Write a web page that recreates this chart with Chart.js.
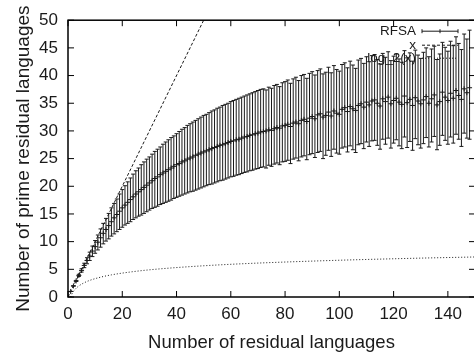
<!DOCTYPE html>
<html>
<head>
<meta charset="utf-8">
<script src="https://cdn.jsdelivr.net/npm/chart.js@4/dist/chart.umd.min.js"></script>
<style>
  html, body { margin: 0; padding: 0; background: #fff; overflow: hidden; }
</style>
</head>
<body>
<canvas id="myChart" width="480" height="355"></canvas>
<script>
// RFSA mean and error bar ends, one entry per residual-language count (1, 2, 3, ...)
const rfsaMean = [
    1, 2, 2.9, 3.9, 4.8, 5.7, 6.6, 7.4, 8.3, 9.1,
    9.9, 10.7, 11.5, 12.2, 12.9, 13.6, 14.3, 14.9, 15.5, 16.1,
    16.6, 17.1, 17.6, 18.1, 18.6, 19.0, 19.4, 19.8, 20.2, 20.6,
    21.0, 21.4, 21.7, 22.1, 22.4, 22.7, 23.0, 23.3, 23.6, 23.9,
    24.1, 24.4, 24.6, 24.9, 25.1, 25.3, 25.6, 25.8, 26.0, 26.2,
    26.4, 26.6, 26.8, 27.0, 27.2, 27.4, 27.5, 27.7, 27.9, 28.1,
    28.2, 28.4, 28.5, 28.7, 28.9, 29.0, 29.2, 29.3, 29.5, 29.6,
    29.8, 29.9, 30.0, 30.2, 30.1, 30.4, 30.6, 30.5, 30.9, 31.0,
    31.2, 30.8, 31.4, 31.6, 31.3, 31.9, 32.1, 31.7, 32.3, 32.6,
    32.2, 32.9, 33.1, 32.5, 32.8, 33.4, 32.7, 33.6, 33.2, 33.0,
    33.9, 34.2, 33.5, 34.4, 34.0, 33.7, 34.6, 34.9, 34.3, 35.2,
    34.7, 35.4, 35.6, 35.0, 34.5, 35.8, 35.3, 36.1, 34.9, 35.5,
    35.9, 35.2, 34.8, 36.3, 35.1, 35.7, 34.6, 36.0, 35.4, 34.9,
    35.6, 36.2, 35.0, 35.8, 36.5, 34.7, 35.3, 37.0, 36.1, 35.5,
    36.8, 35.9, 37.3, 36.4, 35.7, 37.6, 36.9, 37.8
];
const rfsaLow = [
    1, 2, 2.8, 3.7, 4.5, 5.3, 6.0, 6.6, 7.3, 7.9,
    8.5, 9.0, 9.6, 10.1, 10.5, 11.0, 11.4, 11.8, 12.2, 12.6,
    13.0, 13.3, 13.6, 14.0, 14.3, 14.6, 14.8, 15.1, 15.4, 15.7,
    16.0, 16.2, 16.4, 16.7, 16.9, 17.1, 17.3, 17.5, 17.8, 18.0,
    18.2, 18.4, 18.6, 18.8, 19.0, 19.1, 19.3, 19.5, 19.7, 19.9,
    20.1, 20.3, 20.4, 20.6, 20.8, 21.0, 21.1, 21.3, 21.5, 21.7,
    21.8, 22.0, 22.1, 22.3, 22.5, 22.6, 22.8, 22.9, 23.1, 23.2,
    23.4, 23.5, 23.3, 23.8, 23.6, 24.0, 24.2, 23.9, 24.4, 24.5,
    24.7, 24.1, 24.9, 25.1, 24.6, 25.3, 25.5, 24.8, 25.7, 25.9,
    25.2, 26.1, 26.3, 25.0, 25.6, 26.5, 25.4, 26.7, 26.0, 25.8,
    26.9, 27.1, 26.2, 27.3, 26.6, 26.1, 27.5, 27.7, 26.8, 28.0,
    27.2, 28.2, 28.3, 27.4, 26.7, 28.5, 27.6, 28.7, 26.9, 27.8,
    28.4, 27.3, 26.8, 28.9, 27.0, 28.1, 26.5, 28.6, 27.5, 26.9,
    27.7, 28.8, 27.1, 28.0, 29.0, 26.6, 27.4, 29.2, 28.3, 27.6,
    28.9, 27.8, 29.4, 28.5, 27.2, 29.6, 28.7, 28.5
];
const rfsaHigh = [
    1, 2, 3.0, 4.1, 5.1, 6.1, 7.1, 8.1, 9.2, 10.2,
    11.2, 12.3, 13.3, 14.2, 15.1, 16.1, 16.9, 17.7, 18.6, 19.4,
    20.1, 20.8, 21.5, 22.2, 22.8, 23.3, 23.9, 24.4, 24.9, 25.3,
    25.8, 26.3, 26.7, 27.1, 27.6, 28.0, 28.4, 28.8, 29.1, 29.5,
    29.9, 30.3, 30.6, 31.0, 31.3, 31.6, 31.9, 32.2, 32.5, 32.8,
    33.0, 33.3, 33.6, 33.8, 34.1, 34.3, 34.6, 34.8, 35.0, 35.3,
    35.5, 35.7, 35.9, 36.1, 36.3, 36.5, 36.7, 36.9, 37.1, 37.3,
    37.5, 37.6, 37.4, 37.9, 37.7, 38.2, 38.4, 38.0, 38.7, 38.9,
    39.2, 38.6, 39.4, 39.7, 39.1, 40.0, 40.2, 39.5, 40.4, 40.7,
    40.1, 40.9, 41.2, 40.3, 40.6, 41.5, 40.5, 41.8, 41.1, 40.8,
    42.0, 42.3, 41.4, 42.6, 41.9, 41.3, 42.8, 43.1, 42.2, 43.4,
    42.5, 43.6, 43.8, 42.9, 42.1, 44.0, 43.3, 44.3, 42.7, 43.5,
    43.9, 43.0, 42.4, 44.5, 43.2, 44.1, 42.6, 44.6, 43.7, 43.1,
    44.2, 45.0, 43.4, 44.8, 45.3, 42.9, 43.9, 46.0, 45.1, 44.4,
    46.2, 45.4, 47.0, 45.8, 44.7, 47.5, 46.6, 48.2
];
const residuals = rfsaMean.map((_, i) => i + 1);

// reference curves
const diagX = [0, 50];
const diagY = [0, 50];
const logX = [1, 1.5, 2, 3, 4, 6, 8, 12, 16, 24, 32, 48, 64, 96, 128, 150];
const logY = [0, 0.58, 1, 1.58, 2, 2.58, 3, 3.58, 4, 4.58, 5, 5.58, 6, 6.58, 7, 7.23];

const xTicks = [0, 20, 40, 60, 80, 100, 120, 140];

const font = "'Liberation Sans', Arial, sans-serif";
const ink = '#1a1a1a';

const errorBars = {
    id: 'errorBars',
    beforeDatasetsDraw(chart) {
        const { ctx, scales: { x, y } } = chart;
        ctx.save();
        ctx.strokeStyle = ink;
        ctx.lineWidth = 1;
        ctx.beginPath();
        residuals.forEach((n, i) => {
            const px = x.getPixelForValue(n);
            const top = y.getPixelForValue(rfsaHigh[i]);
            const bot = y.getPixelForValue(rfsaLow[i]);
            ctx.moveTo(px, top); ctx.lineTo(px, bot);
            ctx.moveTo(px - 2, top); ctx.lineTo(px + 2, top);
            ctx.moveTo(px - 2, bot); ctx.lineTo(px + 2, bot);
        });
        ctx.stroke();
        ctx.restore();
    }
};

// gnuplot-style frame with inward ticks
const frame = {
    id: 'frame',
    afterDraw(chart) {
        const { ctx, chartArea: a, scales: { x, y } } = chart;
        ctx.save();
        ctx.strokeStyle = '#000';
        ctx.lineWidth = 1.5;
        ctx.strokeRect(a.left, a.top, a.right - a.left, a.bottom - a.top);
        ctx.lineWidth = 1;
        ctx.beginPath();
        x.ticks.forEach(t => {
            const px = x.getPixelForValue(t.value);
            ctx.moveTo(px, a.bottom); ctx.lineTo(px, a.bottom - 6);
            ctx.moveTo(px, a.top); ctx.lineTo(px, a.top + 6);
        });
        y.ticks.forEach(t => {
            const py = y.getPixelForValue(t.value);
            ctx.moveTo(a.left, py); ctx.lineTo(a.left + 6, py);
            ctx.moveTo(a.right, py); ctx.lineTo(a.right - 6, py);
        });
        ctx.stroke();
        ctx.restore();
    }
};

// key in the top right corner, text left of the sample
const key = {
    id: 'key',
    afterDraw(chart) {
        const { ctx, chartArea: a } = chart;
        const textRight = a.right - 59;
        const x0 = a.right - 53, x1 = a.right - 17;
        const rows = [a.top + 11, a.top + 25, a.top + 38];
        ctx.save();
        ctx.font = `13.5px ${font}`;
        ctx.fillStyle = ink;
        ctx.textAlign = 'right';
        ctx.textBaseline = 'middle';
        ctx.fillText('RFSA', textRight, rows[0]);
        ctx.fillText('x', textRight, rows[1]);
        ctx.fillText('log_2(x)', textRight, rows[2]);

        ctx.strokeStyle = ink;
        ctx.lineWidth = 1;
        ctx.beginPath();
        ctx.moveTo(x0, rows[0]); ctx.lineTo(x1, rows[0]);
        ctx.moveTo(x0, rows[0] - 2); ctx.lineTo(x0, rows[0] + 2);
        ctx.moveTo(x1, rows[0] - 2); ctx.lineTo(x1, rows[0] + 2);
        const mid = (x0 + x1) / 2;
        ctx.moveTo(mid, rows[0] - 2); ctx.lineTo(mid, rows[0] + 2);
        ctx.stroke();

        ctx.setLineDash([3, 2]);
        ctx.beginPath();
        ctx.moveTo(x0, rows[1]); ctx.lineTo(x1, rows[1]);
        ctx.stroke();

        ctx.setLineDash([1, 2]);
        ctx.beginPath();
        ctx.moveTo(x0, rows[2]); ctx.lineTo(x1, rows[2]);
        ctx.stroke();
        ctx.restore();
    }
};

const ctx = document.getElementById('myChart').getContext('2d');
new Chart(ctx, {
    type: 'scatter',
    data: {
        datasets: [
            {
                label: 'RFSA',
                data: residuals.map((n, i) => ({ x: n, y: rfsaMean[i] })),
                pointStyle: 'cross',
                pointRadius: 2.5,
                borderColor: ink,
                borderWidth: 1,
                showLine: false
            },
            {
                label: 'x',
                data: diagX.map((v, i) => ({ x: v, y: diagY[i] })),
                showLine: true,
                borderColor: ink,
                borderWidth: 1,
                borderDash: [3, 2],
                pointRadius: 0
            },
            {
                label: 'log_2(x)',
                data: logX.map((v, i) => ({ x: v, y: logY[i] })),
                showLine: true,
                borderColor: ink,
                borderWidth: 1,
                borderDash: [1, 2],
                cubicInterpolationMode: 'monotone',
                pointRadius: 0
            }
        ]
    },
    options: {
        responsive: false,
        animation: false,
        layout: { padding: { top: 16, right: 0, left: 0, bottom: 0 } },
        plugins: {
            legend: { display: false },
            tooltip: { enabled: false }
        },
        scales: {
            x: {
                type: 'linear',
                min: 0,
                max: 150,
                afterBuildTicks: scale => { scale.ticks = xTicks.map(v => ({ value: v })); },
                afterFit: scale => { scale.height = 58; },
                grid: { display: false, drawTicks: false },
                border: { display: false },
                ticks: { color: ink, padding: 7, font: { family: font, size: 17 } },
                title: {
                    display: true,
                    text: 'Number of residual languages',
                    color: ink,
                    font: { family: font, size: 18.5 },
                    padding: { top: 0, bottom: 1 }
                }
            },
            y: {
                min: 0,
                max: 50,
                ticks: { stepSize: 5, color: ink, padding: 10, font: { family: font, size: 17 } },
                afterFit: scale => { scale.width = 68; },
                grid: { display: false, drawTicks: false },
                border: { display: false },
                title: {
                    display: true,
                    text: 'Number of prime residual languages',
                    color: ink,
                    font: { family: font, size: 19 },
                    padding: { top: 12, bottom: 0 }
                }
            }
        }
    },
    plugins: [errorBars, frame, key]
});
</script>
</body>
</html>
